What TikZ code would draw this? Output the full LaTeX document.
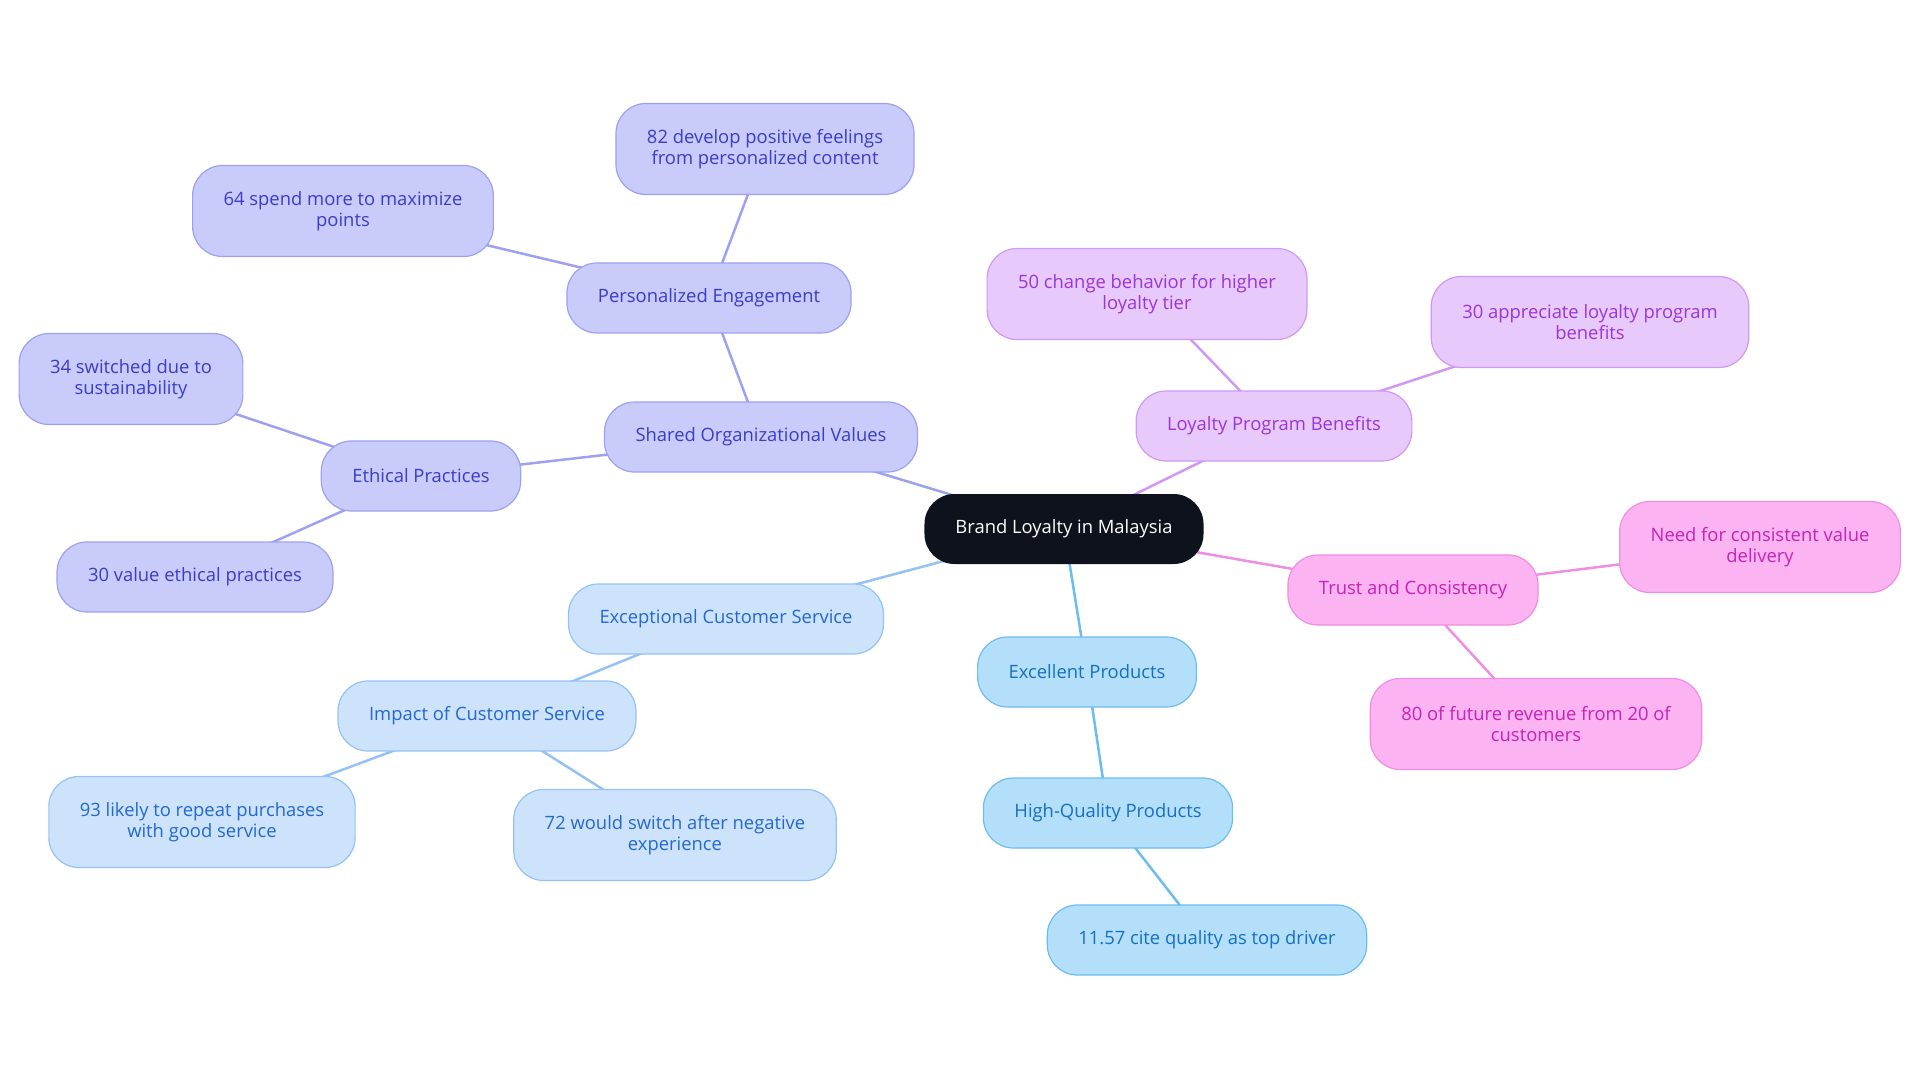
\documentclass[tikz,border=0pt]{standalone}
\usepackage{fontspec}
\setmainfont{Open Sans}
\usepackage{tikz}
\usetikzlibrary{backgrounds}
\definecolor{rootfill}{HTML}{0D121C}
\definecolor{vfill}{HTML}{C9CBFB}
\definecolor{vline}{HTML}{9DA1F0}
\definecolor{vtext}{HTML}{3A3DC8}
\definecolor{cfill}{HTML}{CDE3FB}
\definecolor{cline}{HTML}{95C2F2}
\definecolor{ctext}{HTML}{2468D0}
\definecolor{sfill}{HTML}{B4DFFB}
\definecolor{sline}{HTML}{6CBDEF}
\definecolor{stext}{HTML}{1670C0}
\definecolor{pfill}{HTML}{E8C9FC}
\definecolor{pline}{HTML}{CF99F3}
\definecolor{ptext}{HTML}{9A35D9}
\definecolor{kfill}{HTML}{FBB3F1}
\definecolor{kline}{HTML}{EE8DE4}
\definecolor{ktext}{HTML}{C622B7}
\tikzset{box/.style = {rounded corners=30pt, inner xsep=31pt, inner ysep=0pt,
                       minimum height=70pt, align=center, line width=1.2pt,
                       font=\fontsize{18.4}{20.5}\selectfont}}
\tikzset{tall/.style = {minimum height=91pt}}
\tikzset{vbox/.style = {box, draw=vline, fill=vfill, text=vtext}}
\tikzset{cbox/.style = {box, draw=cline, fill=cfill, text=ctext}}
\tikzset{sbox/.style = {box, draw=sline, fill=sfill, text=stext}}
\tikzset{pbox/.style = {box, draw=pline, fill=pfill, text=ptext}}
\tikzset{kbox/.style = {box, draw=kline, fill=kfill, text=ktext}}
\tikzset{link/.style = {line width=2.5pt, draw=#1}}

\begin{document}
\begin{tikzpicture}[x=1pt, y=-1pt]
      \useasboundingbox (0, 0) rectangle (1920, 1083);
      \node [box, fill=rootfill, text=white] (root) at (1064, 529) {Brand Loyalty in Malaysia};
      % shared values
      \node [vbox] (values) at (761, 437) {Shared Organizational Values};
      \node [vbox] (engage) at (709, 298) {Personalized Engagement};
      \node [vbox, tall] (feelings) at (765, 149) {82 develop positive feelings\\from personalized content};
      \node [vbox, tall] (points) at (343, 211) {64 spend more to maximize\\points};
      \node [vbox] (ethics) at (421, 476) {Ethical Practices};
      \node [vbox, tall] (switched) at (131, 379) {34 switched due to\\sustainability};
      \node [vbox] (valueeth) at (195, 577) {30 value ethical practices};
      % customer service
      \node [cbox] (service) at (726, 619) {Exceptional Customer Service};
      \node [cbox] (impact) at (487, 716) {Impact of Customer Service};
      \node [cbox, tall] (repeat) at (202, 822) {93 likely to repeat purchases\\with good service};
      \node [cbox, tall] (negative) at (675, 835) {72 would switch after negative\\experience};
      % products
      \node [sbox] (products) at (1087, 672) {Excellent Products};
      \node [sbox] (quality) at (1108, 813) {High-Quality Products};
      \node [sbox] (driver) at (1207, 940) {11.57 cite quality as top driver};
      % loyalty program
      \node [pbox] (program) at (1274, 426) {Loyalty Program Benefits};
      \node [pbox, tall] (tier) at (1147, 294) {50 change behavior for higher\\loyalty tier};
      \node [pbox, tall] (appreciate) at (1590, 322) {30 appreciate loyalty program\\benefits};
      % trust
      \node [kbox] (trust) at (1413, 590) {Trust and Consistency};
      \node [kbox, tall] (delivery) at (1760, 547) {Need for consistent value\\delivery};
      \node [kbox, tall] (revenue) at (1536, 724) {80 of future revenue from 20 of\\customers};
      \begin{scope}[on background layer]
        \draw [link=vline] (root.center) -- (values.center);
        \draw [link=vline] (values.center) -- (engage.center);
        \draw [link=vline] (engage.center) -- (feelings.center);
        \draw [link=vline] (engage.center) -- (points.center);
        \draw [link=vline] (values.center) -- (ethics.center);
        \draw [link=vline] (ethics.center) -- (switched.center);
        \draw [link=vline] (ethics.center) -- (valueeth.center);
        \draw [link=cline] (root.center) -- (service.center);
        \draw [link=cline] (service.center) -- (impact.center);
        \draw [link=cline] (impact.center) -- (repeat.center);
        \draw [link=cline] (impact.center) -- (negative.center);
        \draw [link=sline] (root.center) -- (products.center);
        \draw [link=sline] (products.center) -- (quality.center);
        \draw [link=sline] (quality.center) -- (driver.center);
        \draw [link=pline] (root.center) -- (program.center);
        \draw [link=pline] (program.center) -- (tier.center);
        \draw [link=pline] (program.center) -- (appreciate.center);
        \draw [link=kline] (root.center) -- (trust.center);
        \draw [link=kline] (trust.center) -- (delivery.center);
        \draw [link=kline] (trust.center) -- (revenue.center);
      \end{scope}
    \end{tikzpicture}
\end{document}
